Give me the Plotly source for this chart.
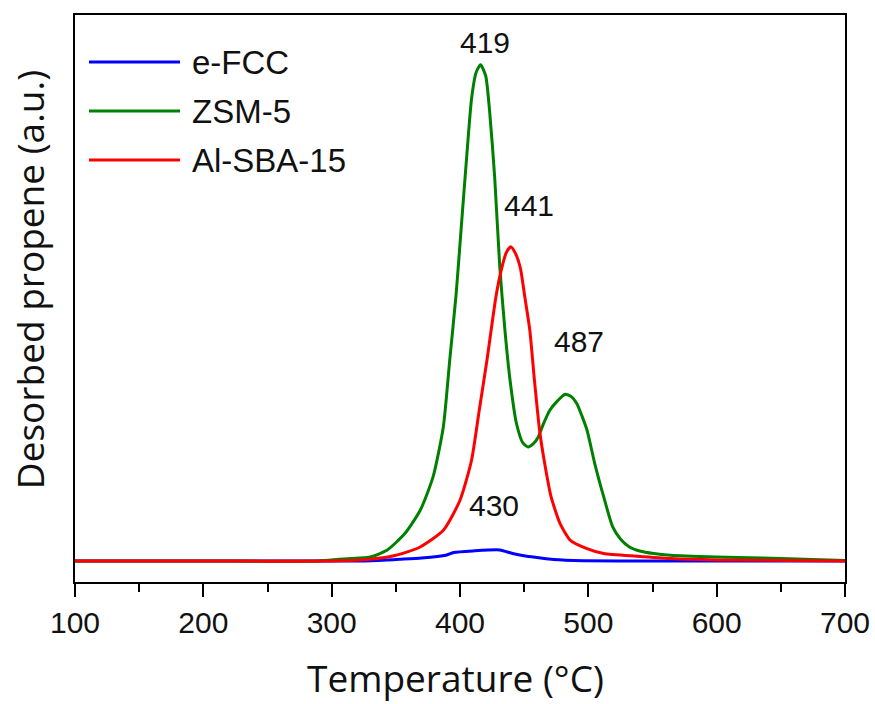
import plotly.graph_objects as go

# ---- data (temperature in °C, desorbed propene in arbitrary units) ----
series_names = ["e-FCC", "ZSM-5", "Al-SBA-15"]
series_colors = ["#0000ff", "#008000", "#ff0000"]

efcc_t = [100, 200, 300, 322, 343, 353, 370, 389, 395, 410, 431, 441, 452, 457, 460, 473, 496, 550, 600, 700]
efcc_y = [0, 0, 0, 0, 1.0, 1.7, 3.0, 5.7, 8.4, 10.0, 11.0, 7.4, 4.7, 4.0, 3.5, 1.5, 0.3, 0, 0, 0]

zsm_t = [100, 200, 290, 306, 330, 343, 357, 369, 379, 387, 392, 397, 401, 405, 409, 412.5, 416,
         420, 423, 427, 431, 435, 439, 444, 449, 453, 457, 461, 465, 470, 476, 482, 487, 491,
         495, 499, 505, 512, 519, 525, 532, 540, 551, 564, 600, 650, 700]
zsm_y = [0, 0, 0, 1.7, 4.0, 10.7, 27.4, 50.7, 84, 134, 200.7, 267, 334, 400.7, 462, 488, 496,
         485, 450.7, 384, 294, 230.7, 180.7, 137.4, 118, 114, 117, 124, 137, 150.7, 160, 166.7, 164, 157.4,
         145, 130.7, 97.4, 64, 34, 22, 14, 10, 7.4, 5.7, 4.0, 2.5, 0.5]

sba_t = [100, 200, 300, 330, 350, 369, 387, 400, 409, 415, 421, 428, 432, 436, 439.5, 443, 447, 450.5,
         454.4, 458, 462, 466, 471, 478, 486, 499, 512, 538, 564, 600, 700]
sba_y = [0, 0, 0, 1.7, 5.7, 14, 30.7, 60.7, 100.7, 150.7, 200.7, 264, 290, 308, 314, 308, 293, 264,
         230.7, 180.7, 130.7, 97.4, 64, 37.4, 20.7, 12.4, 7.4, 4.7, 2.4, 1.0, 0]

series_t = [efcc_t, zsm_t, sba_t]
series_y = [efcc_y, zsm_y, sba_y]

peak_labels = ["419", "441", "487", "430"]
peak_label_t = [419.3, 453.6, 493.1, 426.5]
peak_label_y = [518.7, 355.7, 219.0, 55.7]

x_ticks = [100, 200, 300, 400, 500, 600, 700]

# layout constants (pixels)
W, H = 875, 704
PL, PR, PT, PB = 75, 845, 15, 581.7
PW, PH = PR - PL, PB - PT


def px_to_paper(px, py):
    return (px - PL) / PW, (PB - py) / PH


fig = go.Figure()
for name, color, t, y in zip(series_names, series_colors, series_t, series_y):
    fig.add_trace(go.Scatter(x=t, y=y, mode="lines", name=name,
                             line=dict(color=color, width=3, shape="spline", smoothing=0.6),
                             showlegend=False))

for txt, tx, ty in zip(peak_labels, peak_label_t, peak_label_y):
    fig.add_annotation(x=tx, y=ty, text=txt, showarrow=False,
                       font=dict(family="Arial, Liberation Sans", size=30, color="#111111"),
                       xanchor="center", yanchor="middle")

# manual legend (long key lines as in the reference)
legend_x0, legend_x1, legend_tx = 89, 180, 190
legend_rows = [62, 111, 160]
for name, color, ry in zip(series_names, series_colors, legend_rows):
    x0, yy = px_to_paper(legend_x0, ry)
    x1, _ = px_to_paper(legend_x1, ry)
    xt, _ = px_to_paper(legend_tx, ry)
    fig.add_shape(type="line", xref="paper", yref="paper", x0=x0, x1=x1, y0=yy, y1=yy,
                  line=dict(color=color, width=3))
    fig.add_annotation(xref="paper", yref="paper", x=xt, y=yy,
                       text=name, showarrow=False, xanchor="left", yanchor="middle",
                       font=dict(family="Arial, Liberation Sans", size=33, color="#111111"))

# axis titles placed like the reference
ytx, yty = px_to_paper(29, 280)
fig.add_annotation(xref="paper", yref="paper", x=ytx, y=yty,
                   text="Desorbed propene (a.u.)", textangle=-90, showarrow=False,
                   xanchor="center", yanchor="middle",
                   font=dict(family="Open Sans", size=37, color="#111111"))
xtx, xty = px_to_paper(455, 677)
fig.add_annotation(xref="paper", yref="paper", x=xtx, y=xty,
                   text="Temperature (°C)", showarrow=False,
                   xanchor="center", yanchor="middle",
                   font=dict(family="Open Sans", size=37, color="#111111"))

fig.update_layout(
    width=W, height=H,
    margin=dict(l=PL, r=W - PR, t=PT, b=H - PB, autoexpand=False),
    plot_bgcolor="white", paper_bgcolor="white",
    xaxis=dict(range=[100, 700], tickvals=x_ticks, ticks="outside", ticklen=13, tickwidth=2,
               tickcolor="black", showgrid=False, zeroline=False, automargin=False,
               showline=True, linecolor="black", linewidth=2, mirror=True,
               minor=dict(dtick=50, ticks="outside", ticklen=8, tickwidth=2, tickcolor="black", showgrid=False),
               tickfont=dict(family="Arial, Liberation Sans", size=30, color="#111111")),
    yaxis=dict(range=[-21, 545.7], showticklabels=False, ticks="", showgrid=False, zeroline=False,
               automargin=False,
               showline=True, linecolor="black", linewidth=2, mirror=True),
)

fig.write_html("out.html", config={"displayModeBar": False},
               post_script="document.body.style.margin='0';document.body.style.overflow='hidden';")
